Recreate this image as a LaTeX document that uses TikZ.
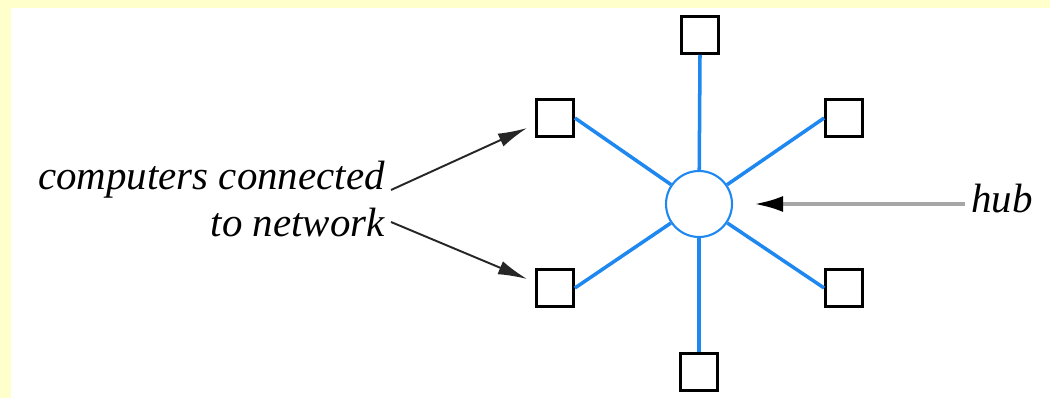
\documentclass[tikz,border=0pt]{standalone}
\usepackage{fontspec}
\setmainfont{Liberation Serif}[ItalicFont={Liberation Serif Italic}]
\usepackage{tikz}
\usetikzlibrary{arrows.meta}

\definecolor{netblue}{RGB}{30,136,240}
\definecolor{paleyellow}{RGB}{255,255,204}

\begin{document}
\begin{tikzpicture}[x=0.02cm, y=-0.02cm,
  comp/.style={rectangle, draw=black, line width=1.6pt, fill=white, minimum size=0.74cm, inner sep=0pt},
  hubnode/.style={circle, draw=netblue, line width=1.2pt, fill=white, minimum size=1.32cm, inner sep=0pt},
  link/.style={netblue, line width=2pt},
  lbl/.style={font=\fontsize{23.3}{26}\selectfont\itshape},
  pointer/.style={black!85, line width=1.1pt, -{Latex[length=0.58cm, width=0.28cm]}}]
\useasboundingbox (0,0) rectangle (1050,398);
\fill[paleyellow] (0,0) rectangle (1050,398);
\fill[white] (11,8) rectangle (1050,398);
\node[hubnode] (hub) at (699,204){};
\node[comp] (c1) at (700,35){};
\node[comp] (c2) at (555,118){};
\node[comp] (c3) at (844,118){};
\node[comp] (c4) at (555,288){};
\node[comp] (c5) at (844,288){};
\node[comp] (c6) at (699,372){};
\draw[link] (hub) -- (c1.south);
\draw[link] (hub) -- (c2.east);
\draw[link] (hub) -- (c3.west);
\draw[link] (hub) -- (c4.east);
\draw[link] (hub) -- (c5.west);
\draw[link] (hub) -- (c6.north);
\node[lbl, anchor=base east] (lbl1) at (391,190){computers connected};
\node[lbl, anchor=base east] (lbl2) at (391,236){to network};
\node[lbl, anchor=base west] (lbl3) at (965,213){hub};
\coordinate (tip1) at (527,128);
\coordinate (tip2) at (527,279);
\coordinate (tip3) at (754,204);
\draw[pointer] (lbl1.base east) -- (tip1);
\draw[pointer] (lbl2.east) -- (tip2);
\draw[black!35, line width=2.2pt, -{Latex[length=0.58cm, width=0.32cm, black]}] (lbl3.west |- tip3) -- (tip3);
\end{tikzpicture}
\end{document}
